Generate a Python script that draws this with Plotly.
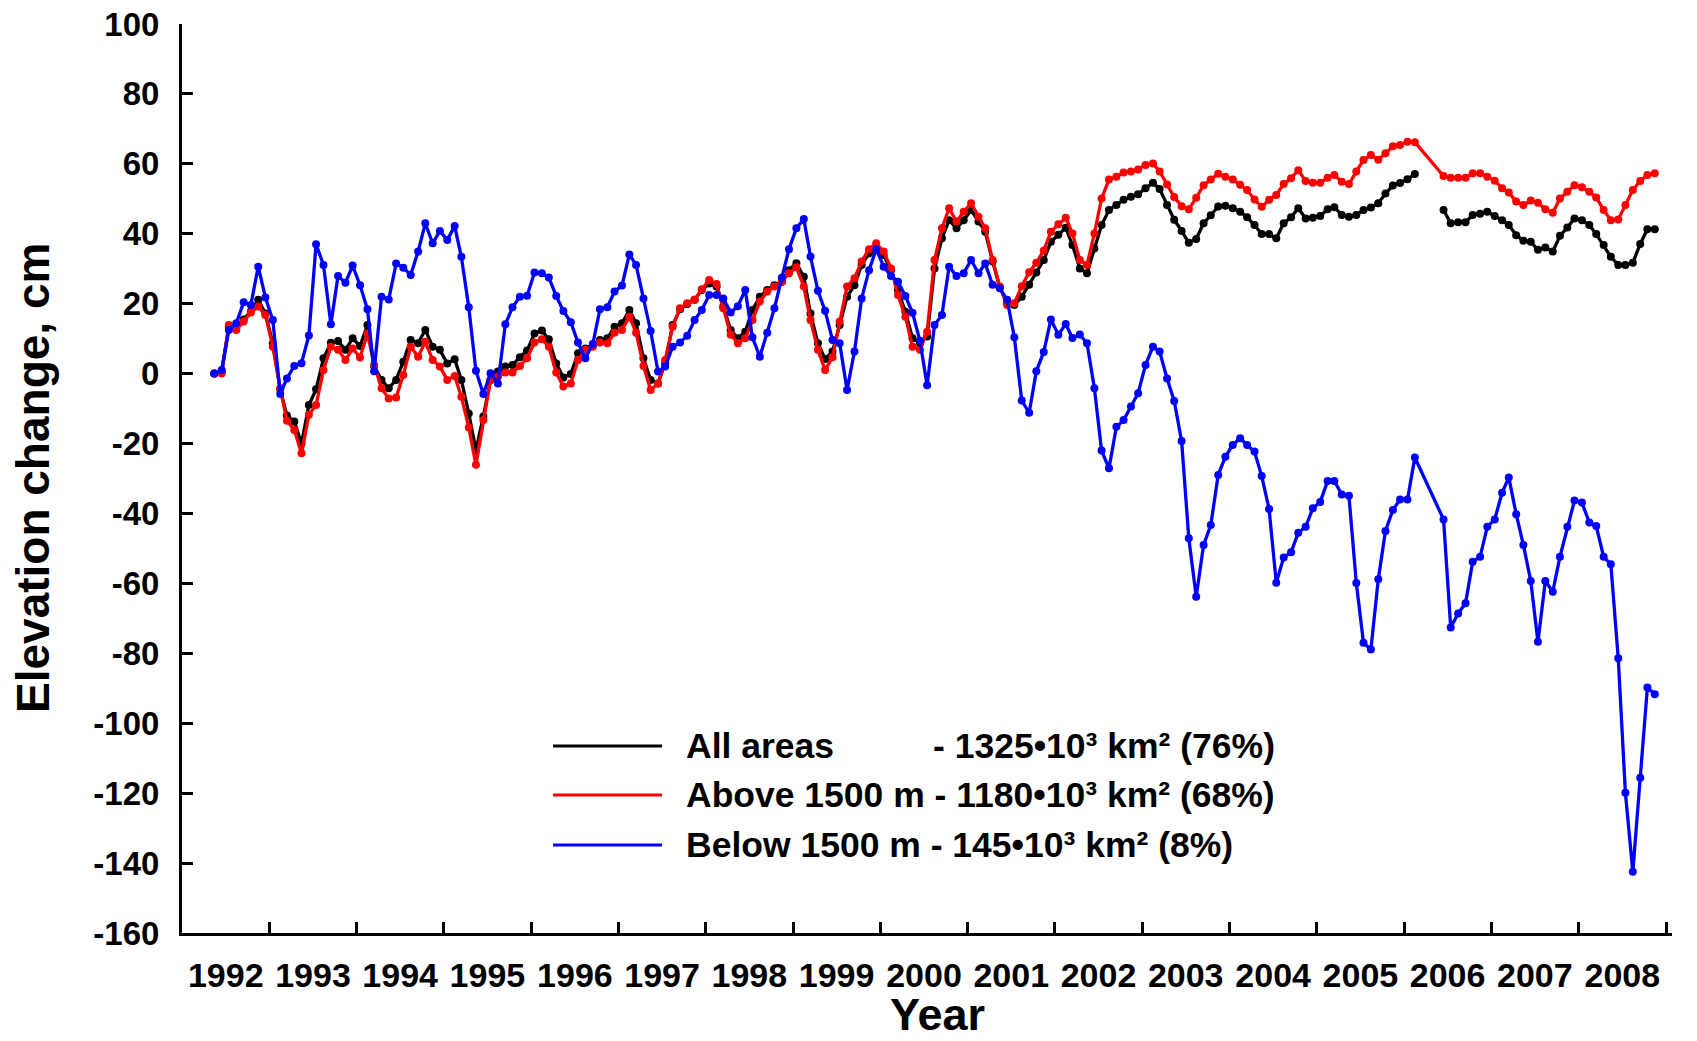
import pandas as pd
import plotly.graph_objects as go

# ---------------- data (monthly elevation change, cm) ----------------
SEG1_START, SEG1_END = "1992-05", "2006-02"
SEG2_START, SEG2_END = "2006-06", "2008-11"

all_1 = [0.0, 0.5, 13.5, 13.0, 15.5, 17.8, 21.1, 17.2, 8.6, -4.5,
         -12.0, -13.7, -20.0, -9.0, -4.5, 4.4, 8.8, 9.3, 6.8, 10.1,
         7.9, 13.9, 2.2, -1.8, -4.2, -1.8, 3.4, 9.6, 8.7, 12.5,
         7.7, 6.8, 2.9, 4.1, -1.8, -11.4, -21.9, -12.3, -1.8, 0.6,
         2.0, 2.5, 4.7, 6.6, 11.5, 12.3, 9.8, 2.9, -1.1, -0.1,
         5.8, 7.2, 8.2, 9.6, 10.1, 13.4, 14.4, 18.2, 14.4, 4.4,
         -1.8, -2.8, 3.0, 13.9, 18.4, 19.9, 21.1, 23.9, 25.8, 24.9,
         19.2, 12.5, 10.1, 12.0, 18.2, 22.0, 23.9, 25.3, 26.3, 29.6,
         31.6, 27.7, 17.2, 8.7, 4.2, 6.3, 13.9, 22.0, 25.3, 31.1,
         34.4, 35.8, 33.9, 29.6, 23.9, 17.7, 10.1, 8.7, 10.6, 30.1,
         38.7, 43.9, 41.6, 43.9, 46.8, 43.5, 40.6, 32.1, 24.7, 20.1,
         19.6, 22.0, 25.4, 28.9, 32.5, 37.7, 39.7, 41.7, 36.8, 30.1,
         28.7, 35.8, 42.5, 46.8, 48.2, 49.7, 50.6, 51.3, 53.0, 54.6,
         52.8, 48.2, 44.0, 40.8, 37.4, 38.5, 43.0, 45.3, 47.8, 48.0,
         47.3, 46.3, 44.7, 42.5, 39.9, 39.9, 38.7, 43.0, 44.7, 47.3,
         44.4, 44.6, 45.1, 47.0, 47.6, 45.4, 44.9, 45.4, 46.8, 47.5,
         48.7, 51.5, 53.8, 54.5, 55.6, 57.1]
above_1 = [0.0, 0.0, 13.9, 12.5, 14.9, 17.5, 19.2, 16.8, 7.7, -4.2,
           -13.5, -16.1, -22.8, -11.8, -9.0, 1.0, 7.7, 6.8, 3.9, 7.2,
           4.6, 11.5, 2.5, -4.2, -7.1, -6.8, -0.4, 7.7, 4.8, 9.1,
           3.9, 2.0, -1.8, -0.7, -6.6, -15.4, -26.1, -13.3, -1.8, -0.9,
           0.3, 0.3, 2.2, 4.4, 8.9, 9.8, 7.7, 0.3, -3.7, -2.8,
           3.9, 6.8, 7.7, 8.9, 8.7, 11.7, 12.5, 16.3, 11.7, 2.2,
           -4.7, -2.8, 3.9, 13.4, 18.7, 20.1, 21.1, 24.1, 26.8, 25.6,
           18.7, 11.1, 8.7, 10.1, 15.3, 20.6, 23.5, 24.9, 26.3, 28.7,
           30.4, 24.9, 15.3, 6.8, 1.0, 4.7, 14.9, 24.9, 27.3, 32.1,
           35.6, 37.3, 34.9, 30.1, 22.5, 16.3, 7.7, 6.8, 12.0, 32.5,
           41.6, 47.3, 43.5, 46.3, 48.7, 44.9, 41.6, 32.5, 24.9, 19.6,
           20.1, 25.0, 29.0, 31.7, 35.2, 40.6, 42.7, 44.6, 40.1, 32.5,
           31.1, 40.1, 50.1, 55.5, 56.3, 57.5, 57.8, 58.4, 59.7, 60.1,
           57.8, 54.1, 50.5, 47.9, 47.0, 50.3, 53.9, 55.5, 57.2, 56.3,
           55.5, 54.0, 52.5, 49.8, 47.7, 49.7, 51.1, 54.2, 55.9, 58.2,
           55.1, 54.6, 54.6, 56.0, 56.8, 54.9, 54.2, 57.8, 61.1, 62.5,
           61.2, 63.0, 65.0, 65.4, 66.3, 66.2]
below_1 = [0.0, 1.0, 12.5, 14.4, 20.4, 19.6, 30.6, 21.8, 15.3, -5.8,
           -1.4, 2.2, 3.0, 10.9, 37.0, 31.1, 14.1, 27.9, 26.0, 30.9,
           25.3, 18.4, 0.7, 22.0, 21.2, 31.5, 30.3, 28.2, 34.9, 43.0,
           37.3, 40.8, 38.2, 42.2, 33.4, 19.0, 0.8, -5.8, 0.1, -2.8,
           14.1, 19.0, 22.0, 22.3, 28.9, 28.7, 27.5, 22.2, 17.9, 14.7,
           8.9, 4.4, 8.5, 18.4, 19.0, 23.5, 25.2, 34.1, 31.1, 21.5,
           12.2, 0.6, 2.0, 7.7, 8.9, 10.8, 15.3, 18.2, 22.5, 22.5,
           21.5, 17.5, 19.3, 23.9, 10.4, 4.8, 11.7, 18.7, 27.4, 35.6,
           41.6, 44.2, 33.5, 23.7, 18.0, 9.6, 8.7, -4.7, 6.3, 21.5,
           29.6, 35.6, 30.6, 27.9, 26.3, 22.2, 17.4, 9.4, -3.3, 13.9,
           16.8, 30.6, 27.9, 28.7, 32.5, 28.7, 31.5, 25.4, 24.4, 21.1,
           10.4, -7.7, -11.2, 0.7, 6.2, 15.5, 11.1, 14.2, 10.2, 11.2,
           8.7, -4.2, -22.0, -27.1, -15.2, -13.3, -9.4, -5.6, 2.5, 7.7,
           6.3, -1.4, -7.8, -19.3, -47.1, -63.8, -49.0, -43.3, -29.0, -23.8,
           -20.4, -18.5, -20.4, -22.3, -29.3, -38.7, -59.8, -52.6, -51.1, -45.5,
           -43.8, -38.5, -36.7, -30.7, -30.7, -34.6, -34.9, -59.9, -77.0, -78.9,
           -58.8, -45.0, -39.0, -36.0, -36.0, -24.0]

all_2 = [46.8, 43.0, 43.3, 43.3, 45.4, 45.7, 46.3, 45.1, 43.9, 42.5,
         39.6, 38.0, 37.7, 35.4, 36.1, 34.9, 39.4, 41.8, 44.4, 43.9,
         42.5, 39.9, 36.8, 33.4, 31.1, 31.1, 31.7, 37.1, 41.3, 41.3]
above_2 = [56.5, 56.0, 56.0, 56.0, 57.3, 57.3, 56.3, 55.2, 53.0, 51.8,
           49.2, 48.2, 49.5, 48.9, 47.0, 46.0, 50.1, 52.0, 53.9, 53.3,
           52.0, 50.4, 46.8, 43.9, 44.1, 48.2, 52.5, 55.1, 56.8, 57.3]
below_2 = [-41.7, -72.6, -68.6, -65.7, -53.8, -52.4, -43.8, -41.7, -34.1, -29.7,
           -40.2, -49.0, -59.3, -76.7, -59.3, -62.4, -52.4, -43.8, -36.3, -36.9,
           -42.6, -43.6, -52.4, -54.5, -81.4, -119.9, -142.5, -115.6, -89.8, -91.7]

YEARS = list(range(1992, 2009))
Y_TICKS = list(range(-160, 101, 20))
LEGEND_NAMES = ["All areas", "Above 1500 m", "Below 1500 m"]
LEGEND_AREAS = ["- 1325•10³ km² (76%)", "- 1180•10³ km² (68%)", "- 145•10³ km² (8%)"]
COLORS = ["#000000", "#ff0000", "#0000ff"]
GAP_MONTH = "2006-04-15"

# ---------------- time axis ----------------
def months(start, end):
    return list(pd.date_range(start + "-01", end + "-01", freq="MS") + pd.Timedelta(days=14))

d1 = months(SEG1_START, SEG1_END)
d2 = months(SEG2_START, SEG2_END)

FONT = "Liberation Sans, Arial, Helvetica, sans-serif"
LW, MS = 3.3, 8

fig = go.Figure()
fig.add_trace(go.Scatter(x=d1 + [pd.Timestamp(GAP_MONTH)] + d2, y=all_1 + [None] + all_2,
                         mode="lines+markers", connectgaps=False,
                         line=dict(color=COLORS[0], width=LW), marker=dict(size=MS, color=COLORS[0]),
                         name=LEGEND_NAMES[0], showlegend=False))
fig.add_trace(go.Scatter(x=d1 + d2, y=above_1 + above_2, mode="lines+markers",
                         line=dict(color=COLORS[1], width=LW), marker=dict(size=MS, color=COLORS[1]),
                         name=LEGEND_NAMES[1], showlegend=False))
fig.add_trace(go.Scatter(x=d1 + d2, y=below_1 + below_2, mode="lines+markers",
                         line=dict(color=COLORS[2], width=LW), marker=dict(size=MS, color=COLORS[2]),
                         name=LEGEND_NAMES[2], showlegend=False))

# ---------------- layout geometry (pixels) ----------------
W, H = 1697, 1041
PL, PR, PT, PB = 182, 1672, 24, 933

def xp(px):
    return (px - PL) / (PR - PL)

def yp(py):
    return (PB - py) / (PB - PT)

fig.update_layout(
    width=W, height=H,
    margin=dict(l=PL, r=W - PR, t=PT, b=H - PB, autoexpand=False),
    paper_bgcolor="white", plot_bgcolor="white",
    font=dict(family=FONT, color="black"),
    showlegend=False,
)

fig.update_xaxes(
    type="date", automargin=False,
    range=["1992-01-01", "2009-01-26"],
    showline=True, linewidth=3, linecolor="black",
    showgrid=False, zeroline=False,
    tickmode="array",
    tickvals=[f"{y}-07-02" for y in YEARS],
    ticktext=[str(y) for y in YEARS],
    ticks="",
    tickfont=dict(family=FONT, size=34, weight="bold", color="black"),
    ticklabelstandoff=10,
    minor=dict(tickmode="array", tickvals=[f"{y}-01-01" for y in range(1993, 2010)],
               ticks="inside", ticklen=11, tickwidth=3, tickcolor="black", showgrid=False),
)
fig.update_yaxes(
    automargin=False,
    range=[-160, 100],
    tickmode="array", tickvals=Y_TICKS, ticktext=[str(v) for v in Y_TICKS],
    showline=True, linewidth=3, linecolor="black",
    showgrid=False, zeroline=False,
    ticks="inside", ticklen=11, tickwidth=3, tickcolor="black",
    tickfont=dict(family=FONT, size=33, weight="bold", color="black"),
    ticklabelstandoff=13,
)

ann = []
ann.append(dict(text="Elevation change, cm", textangle=-90, xref="paper", yref="paper",
                x=0, y=0.5, xanchor="center", yanchor="middle", xshift=32.5 - PL, showarrow=False,
                font=dict(family=FONT, size=46, weight="bold", color="black")))
ann.append(dict(text="Year", xref="paper", yref="paper", x=xp(937), y=0,
                xanchor="center", yanchor="middle", yshift=-(1014 - PB), showarrow=False,
                font=dict(family=FONT, size=45, weight="bold", color="black")))

legend_y = [746, 795, 845]
shapes = []
lf = dict(family=FONT, size=35.5, weight="bold", color="black")
for i, (name, area, col) in enumerate(zip(LEGEND_NAMES, LEGEND_AREAS, COLORS)):
    y = yp(legend_y[i])
    shapes.append(dict(type="line", xref="paper", yref="paper", x0=xp(553), x1=xp(662), y0=y, y1=y,
                       line=dict(color=col, width=3)))
    if i == 0:
        ann.append(dict(text=name, xref="paper", yref="paper", x=xp(684), y=y, xanchor="left",
                        yanchor="middle", showarrow=False, font=lf))
        ann.append(dict(text=area, xref="paper", yref="paper", x=xp(931), y=y, xanchor="left",
                        yanchor="middle", showarrow=False, font=lf))
    else:
        ann.append(dict(text=name + " " + area, xref="paper", yref="paper", x=xp(684), y=y,
                        xanchor="left", yanchor="middle", showarrow=False, font=lf))

fig.update_layout(annotations=ann, shapes=shapes)

fig.write_html("out.html")
